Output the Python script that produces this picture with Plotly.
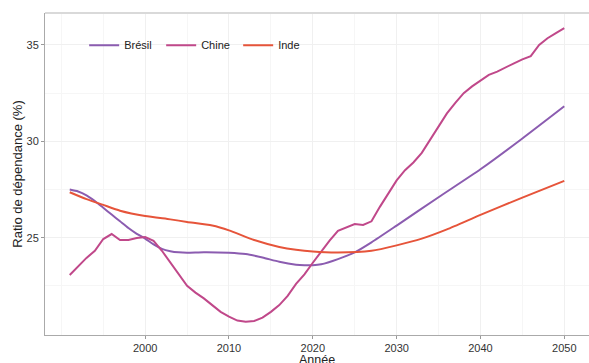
import plotly.graph_objects as go

# ---- data ----
bresil_years = [1991, 1992, 1993, 1994, 1995, 1996, 1997, 1998, 1999, 2000, 2001, 2002, 2003, 2004,
                2005, 2007, 2010, 2012, 2014, 2016, 2018, 2019, 2020, 2021, 2023, 2025, 2027, 2030,
                2035, 2040, 2045, 2050]
bresil_vals = [27.5, 27.4, 27.2, 26.9, 26.55, 26.2, 25.85, 25.5, 25.2, 24.95, 24.65, 24.42, 24.3, 24.24,
               24.22, 24.25, 24.22, 24.15, 23.97, 23.75, 23.6, 23.57, 23.57, 23.62, 23.89, 24.24, 24.76,
               25.63, 27.1, 28.55, 30.15, 31.82]

inde_years = [1991, 1993, 1995, 1997, 2000, 2003, 2005, 2008, 2010, 2013, 2016, 2018, 2020, 2023,
              2027, 2030, 2033, 2036, 2040, 2045, 2050]
inde_vals = [27.36, 27.0, 26.7, 26.4, 26.12, 25.95, 25.82, 25.63, 25.38, 24.88, 24.52, 24.37, 24.28,
             24.23, 24.32, 24.6, 24.95, 25.43, 26.18, 27.08, 27.95]

chine_years = list(range(1991, 2051))
chine_vals = [23.06, 23.5, 23.95, 24.32, 24.93, 25.19, 24.88, 24.88, 24.98, 25.03,
              24.84, 24.32, 23.7, 23.1, 22.5, 22.15, 21.85, 21.5, 21.15, 20.9,
              20.7, 20.64, 20.68, 20.85, 21.15, 21.5, 21.98, 22.6, 23.1, 23.7,
              24.3, 24.85, 25.36, 25.55, 25.71, 25.66, 25.85, 26.6, 27.3, 27.97,
              28.5, 28.9, 29.4, 30.1, 30.8, 31.45, 32.0, 32.5, 32.85, 33.15,
              33.45, 33.62, 33.85, 34.05, 34.25, 34.42, 35.0, 35.35, 35.62, 35.87]

x_ticks = [2000, 2010, 2020, 2030, 2040, 2050]
y_ticks = [25, 30, 35]
x_title = "Année"
y_title = "Ratio de dépendance (%)"

series = [
    ("Brésil", bresil_years, bresil_vals, "#8b5cb0", "spline"),
    ("Chine", chine_years, chine_vals, "#c0488a", "linear"),
    ("Inde", inde_years, inde_vals, "#e6543a", "spline"),
]

fig = go.Figure()
for name, xs, ys, col, shape in series:
    fig.add_trace(go.Scatter(x=xs, y=ys, name=name, mode="lines",
                             line=dict(color=col, width=2, shape=shape, smoothing=0.6)))

font = "Liberation Sans, Arial, sans-serif"
fig.update_layout(
    width=589, height=363,
    margin=dict(l=45, r=0, t=13, b=28),
    paper_bgcolor="white", plot_bgcolor="white",
    font=dict(family=font, size=11, color="#333333"),
    showlegend=True,
    legend=dict(orientation="h", x=0.072, y=0.9, xanchor="left", yanchor="middle",
                font=dict(size=11, color="#222222"), bgcolor="rgba(0,0,0,0)",
                itemwidth=30, tracegroupgap=0, entrywidth=32),
    xaxis=dict(range=[1988.05, 2052.95], tickvals=x_ticks, ticks="outside", ticklen=3,
               tickcolor="#999999", showline=True, linecolor="#aaaaaa", linewidth=1,
               showgrid=True, gridcolor="#f0f0f0", gridwidth=1, automargin=False,
               minor=dict(dtick=5, tick0=1990, showgrid=True, gridcolor="#f6f6f6", gridwidth=1),
               zeroline=False, tickfont=dict(size=11, color="#333333")),
    yaxis=dict(range=[19.95, 36.66], tickvals=y_ticks, ticks="outside", ticklen=3,
               tickcolor="#999999", showline=True, linecolor="#aaaaaa", linewidth=1,
               showgrid=True, gridcolor="#f0f0f0", gridwidth=1, automargin=False,
               minor=dict(dtick=2.5, tick0=20, showgrid=True, gridcolor="#f6f6f6", gridwidth=1),
               title=dict(text=y_title, font=dict(size=13, color="#222222"), standoff=0),
               zeroline=False, tickfont=dict(size=11, color="#333333")),
    shapes=[dict(type="line", xref="paper", yref="paper", x0=0, x1=1, y0=1, y1=1,
                 line=dict(color="#d9d9d9", width=2))],
    annotations=[dict(text=x_title, xref="paper", yref="paper", x=0.5, y=0,
                      xanchor="center", yanchor="top", yshift=-16, showarrow=False,
                      font=dict(size=12.5, color="#222222"))],
)

fig.write_html("out.html")
